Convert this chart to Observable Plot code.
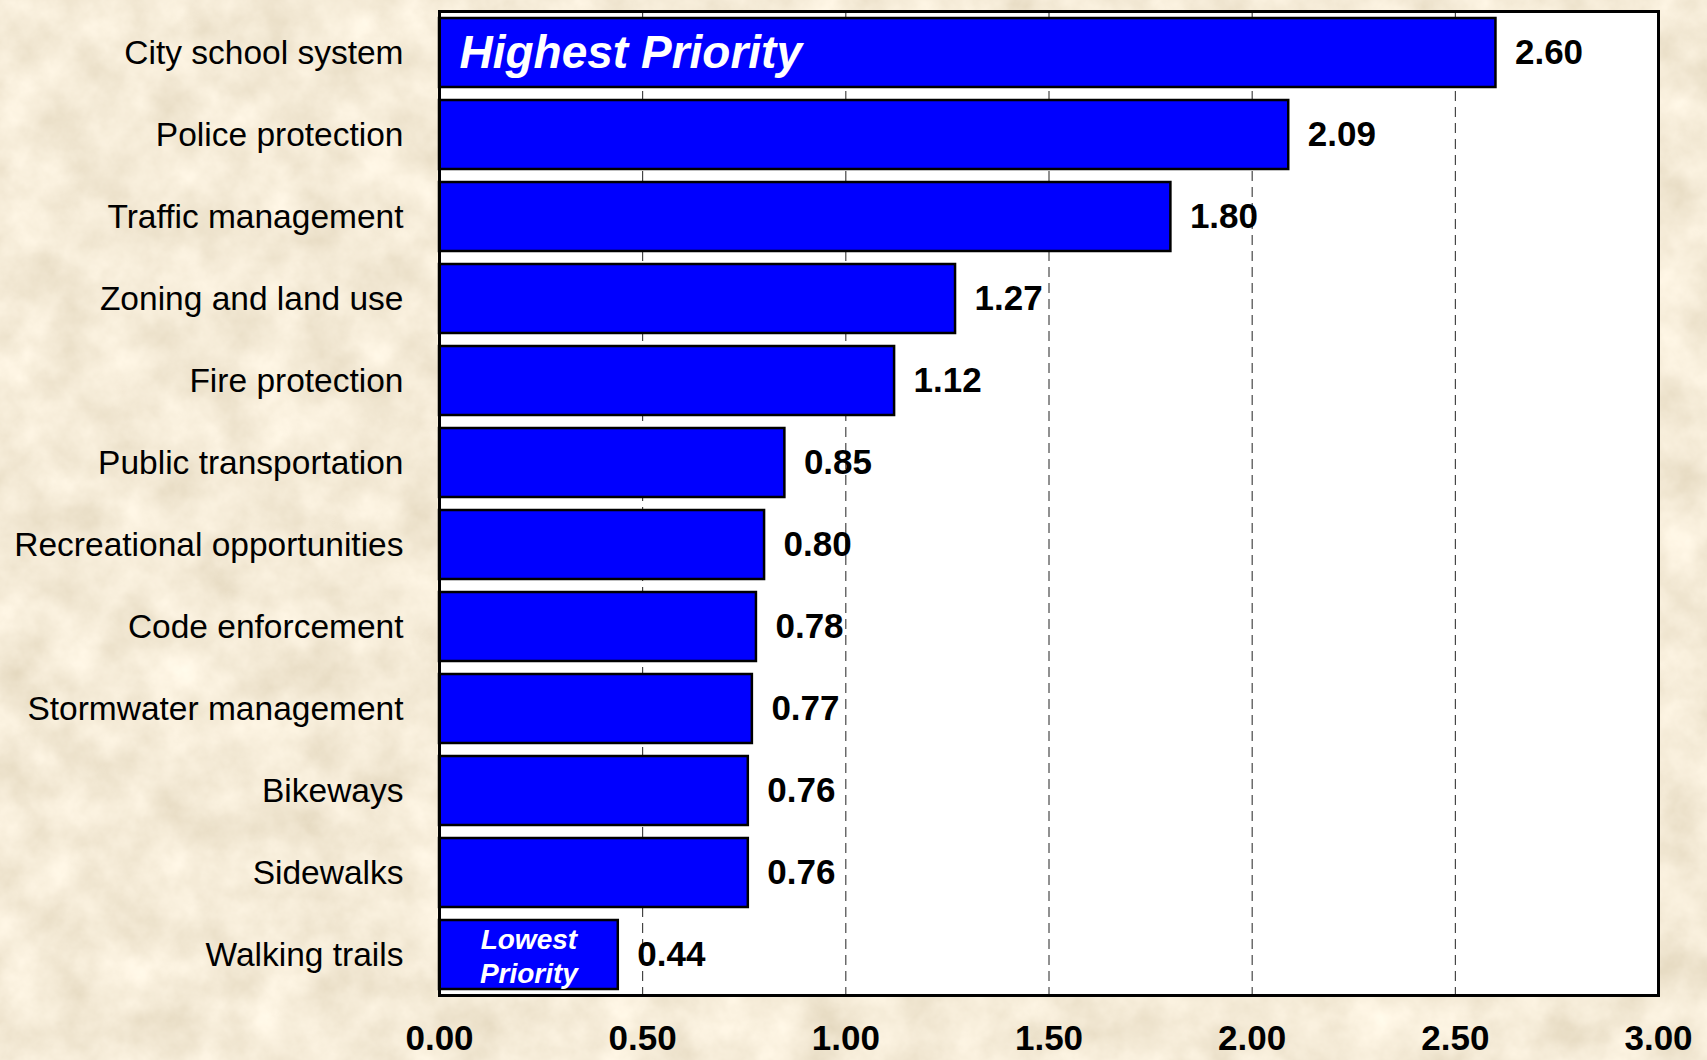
<!DOCTYPE html>
<html>
<head>
<meta charset="utf-8">
<script src="https://cdn.jsdelivr.net/npm/d3@7"></script>
<script src="https://cdn.jsdelivr.net/npm/@observablehq/plot@0.6"></script>
<style>
  html, body { margin: 0; padding: 0; width: 1707px; height: 1060px; overflow: hidden; background: #E6D3A9; }
  #bg { position: absolute; left: 0; top: 0; }
  #chart { position: absolute; left: 0; top: 0; }
</style>
</head>
<body>
<svg id="bg" width="1707" height="1060" xmlns="http://www.w3.org/2000/svg">
  <filter id="paper" x="0" y="0" width="100%" height="100%">
    <feTurbulence type="fractalNoise" baseFrequency="0.02" numOctaves="5" seed="7"/>
    <feColorMatrix type="matrix" values="0.30 0 0 0 0.76  0.32 0 0 0 0.67  0.36 0 0 0 0.50  0 0 0 0 1"/>
  </filter>
  <rect width="1707" height="1060" filter="url(#paper)"/>
</svg>
<div id="chart"></div>
<script>
const categories = [
  "City school system",
  "Police protection",
  "Traffic management",
  "Zoning and land use",
  "Fire protection",
  "Public transportation",
  "Recreational opportunities",
  "Code enforcement",
  "Stormwater management",
  "Bikeways",
  "Sidewalks",
  "Walking trails"
];
const values = [2.60, 2.09, 1.80, 1.27, 1.12, 0.85, 0.80, 0.78, 0.77, 0.76, 0.76, 0.44];
const xTicks = [0, 0.5, 1.0, 1.5, 2.0, 2.5, 3.0];
const gridTicks = [0.5, 1.0, 1.5, 2.0, 2.5];
const highLabel = "Highest Priority";
const lowLabel = "Lowest\nPriority";

const data = categories.map((c, i) => ({category: c, value: values[i]}));
const first = data[0];
const last = data[data.length - 1];

const chart = Plot.plot({
  width: 1707,
  height: 1060,
  marginLeft: 439,
  marginRight: 49,
  marginTop: 11,
  marginBottom: 65,
  style: {background: "transparent", fontFamily: "'Liberation Sans', Arial, sans-serif", color: "black", overflow: "visible"},
  x: {domain: [0, 3]},
  y: {domain: categories, paddingInner: 0.16, paddingOuter: 0.08},
  marks: [
    Plot.frame({fill: "white", stroke: null}),
    Plot.ruleX(gridTicks, {stroke: "#222", strokeWidth: 1, strokeDasharray: "10,6"}),
    Plot.barX(data, {x: "value", y: "category", fill: "#0000FF", stroke: "black", strokeWidth: 2.5}),
    Plot.text(data, {x: "value", y: "category", text: d => d.value.toFixed(2), textAnchor: "start", dx: 19, fontSize: 35, fontWeight: "bold", fill: "black"}),
    Plot.text([first], {x: 0, y: "category", text: () => highLabel, textAnchor: "start", dx: 20, fontSize: 46, fontWeight: "bold", fontStyle: "italic", fill: "white"}),
    Plot.text([last], {x: d => d.value / 2, y: "category", text: () => lowLabel, textAnchor: "middle", fontSize: 28, lineHeight: 1.2, fontWeight: "bold", fontStyle: "italic", fill: "white"}),
    Plot.axisX({ticks: xTicks, tickFormat: d => d.toFixed(2), tickSize: 0, tickPadding: 30, fontSize: 35, fontWeight: "bold", label: null}),
    Plot.axisY({tickSize: 0, tickPadding: 36, fontSize: 33.5, label: null}),
    Plot.frame({stroke: "black", strokeWidth: 3})
  ]
});
document.getElementById("chart").appendChild(chart);
</script>
</body>
</html>
